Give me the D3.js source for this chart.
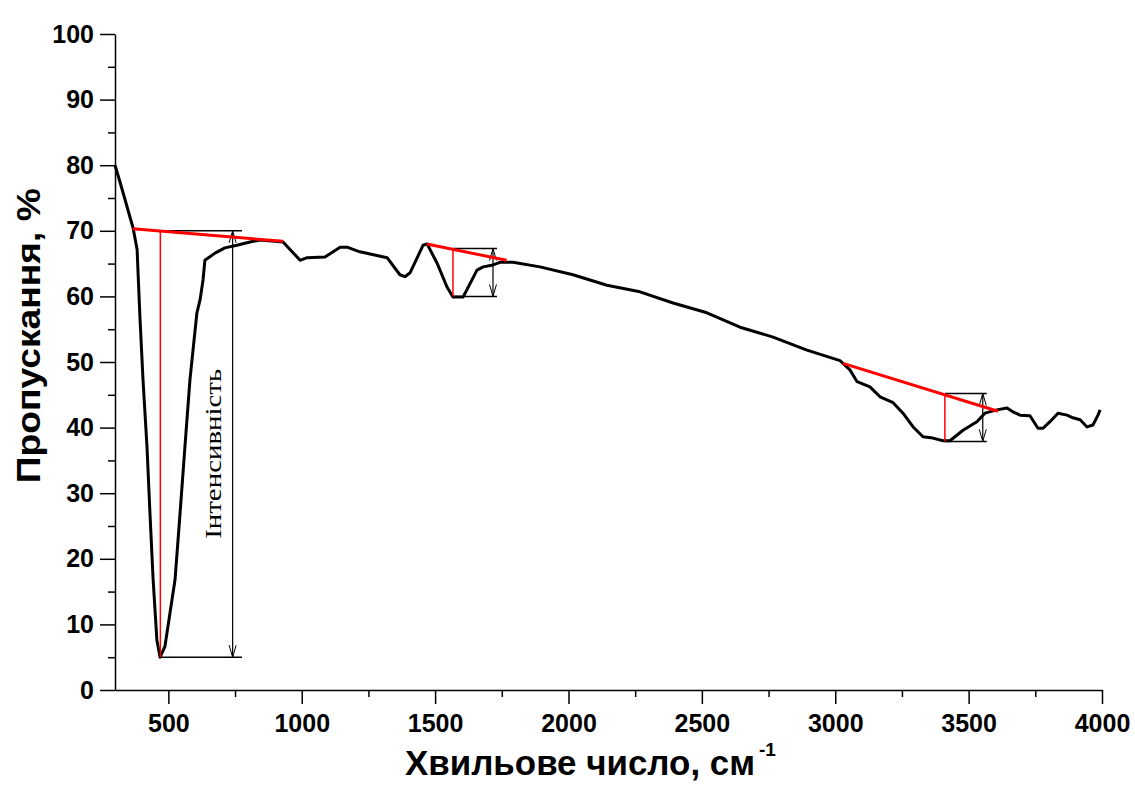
<!DOCTYPE html>
<html>
<head>
<meta charset="utf-8">
<script src="https://cdn.jsdelivr.net/npm/d3@7"></script>
<style>
  body { margin: 0; background: #fff; }
  svg text { fill: #000; }
</style>
</head>
<body>
<svg id="chart"></svg>
<script>
// IR spectrum
const wavenumber = [300, 319, 338, 356, 368, 383, 386, 394, 405, 420, 431, 443, 457, 469,
  487, 506, 525, 544, 562, 581, 607, 619, 630, 637, 675, 712, 757, 806, 844, 930,
  994, 1020, 1087, 1144, 1170, 1218, 1320, 1368, 1387, 1406, 1455, 1470, 1507, 1545,
  1567, 1605, 1657, 1680, 1717, 1743, 1792, 1893, 2017, 2144, 2268, 2392, 2519, 2643,
  2767, 2894, 3018, 3029, 3055, 3082, 3130, 3168, 3217, 3254, 3292, 3329, 3366, 3404,
  3430, 3479, 3531, 3561, 3606, 3644, 3666, 3693, 3730, 3760, 3779, 3805, 3835, 3869,
  3891, 3918, 3944, 3966, 3985, 3993];
const transmittance = [80.0, 77.4, 74.7, 72.1, 70.4, 67.1, 64.0, 56.4, 47.3, 37.0, 27.0, 16.8, 7.6, 5.0,
  6.6, 11.7, 16.8, 27.0, 37.0, 47.3, 57.5, 59.5, 62.5, 65.5, 66.6, 67.4, 67.8, 68.3, 68.6, 68.3,
  65.5, 65.9, 66.0, 67.5, 67.5, 66.8, 65.9, 63.3, 63.0, 63.6, 67.8, 68.0, 65.1, 61.4,
  59.9, 59.9, 64.0, 64.5, 64.8, 65.2, 65.2, 64.5, 63.3, 61.7, 60.7, 59.0, 57.5, 55.3,
  53.8, 51.8, 50.2, 49.8, 48.8, 47.0, 46.2, 44.7, 43.8, 42.2, 40.1, 38.6, 38.4, 38.0,
  38.0, 39.6, 40.9, 42.2, 42.7, 43.0, 42.4, 41.9, 41.8, 39.9, 39.9, 40.9, 42.2, 41.9,
  41.5, 41.2, 40.1, 40.4, 41.9, 42.7];

// band annotations (baseline, box, intensity arrow)
const baselineFrom = [[367, 70.3], [1469, 68.0], [3029, 49.8]];
const baselineTo = [[930, 68.4], [1768, 65.5], [3610, 42.5]];
const bandCenter = [470, 1567, 3411];
const bandTop = [70.0, 67.3, 45.2];
const bandMin = [5.0, 60.0, 37.9];
const bandArrow = [741, 1717, 3553];
const bandEnd = [776, 1732, 3568];

const xTicks = [500, 1000, 1500, 2000, 2500, 3000, 3500, 4000];
const xMinor = [750, 1250, 1750, 2250, 2750, 3250, 3750];
const yTicks = [0, 10, 20, 30, 40, 50, 60, 70, 80, 90, 100];
const yMinor = [5, 15, 25, 35, 45, 55, 65, 75, 85, 95];

const svgWidth = 1135, svgHeight = 785;
const margin = {top: 34, right: 33, bottom: 95, left: 115},
    width = svgWidth - margin.left - margin.right,
    height = svgHeight - margin.top - margin.bottom;

const chart = d3.select('#chart')
    .attr("width", svgWidth)
    .attr("height", svgHeight);

const g = chart.append("g")
    .attr("transform", `translate(${margin.left},${margin.top})`);

var xScale = d3.scaleLinear().domain([300, 4000]).range([0, width]);
var yScale = d3.scaleLinear().domain([0, 100]).range([height, 0]);

// open "V" arrow heads
const defs = chart.append("defs");
defs.append("marker")
    .attr("id", "vhead")
    .attr("viewBox", "-13 -5 14 10")
    .attr("refX", 0).attr("refY", 0)
    .attr("markerWidth", 14).attr("markerHeight", 10)
    .attr("markerUnits", "userSpaceOnUse")
    .attr("orient", "auto-start-reverse")
    .append("path")
    .attr("d", "M-12,-3.5 L0,0 L-12,3.5")
    .attr("fill", "none")
    .attr("stroke", "#000")
    .attr("stroke-width", 1);

const boldFont = "'Liberation Sans', Arial, sans-serif";

// axes
const xAxis = g.append("g")
    .attr("transform", `translate(0,${height})`)
    .call(d3.axisBottom(xScale).tickValues(xTicks).tickFormat(d3.format("d"))
        .tickSize(14).tickSizeOuter(0).tickPadding(10));
xAxis.append("g")
    .call(d3.axisBottom(xScale).tickValues(xMinor).tickSize(7).tickFormat(""))
    .select(".domain").remove();
xAxis.selectAll("text")
    .style("font-family", boldFont)
    .style("font-weight", "bold")
    .style("font-size", "25px");

const yAxis = g.append("g")
    .call(d3.axisLeft(yScale).tickValues(yTicks).tickFormat(d3.format("d"))
        .tickSize(15).tickSizeOuter(0).tickPadding(6));
yAxis.append("g")
    .call(d3.axisLeft(yScale).tickValues(yMinor).tickSize(7).tickFormat(""))
    .select(".domain").remove();
yAxis.selectAll("text")
    .style("font-family", boldFont)
    .style("font-weight", "bold")
    .style("font-size", "25px");

chart.selectAll(".domain, .tick line")
    .attr("stroke", "#000")
    .attr("stroke-width", 1.5);

// axis titles (squeezed to look like a narrow face)
chart.append("text")
    .attr("x", 405)
    .attr("y", 775)
    .style("font-family", boldFont)
    .style("font-weight", "bold")
    .style("font-size", "35px")
    .attr("textLength", 350)
    .attr("lengthAdjust", "spacingAndGlyphs")
    .text("Хвильове число, см");
chart.append("text")
    .attr("x", 759)
    .attr("y", 756)
    .style("font-family", boldFont)
    .style("font-weight", "bold")
    .style("font-size", "19px")
    .text("-1");

chart.append("text")
    .attr("transform", `translate(40,${margin.top + yScale(54)}) rotate(-90)`)
    .style("font-family", boldFont)
    .style("font-weight", "bold")
    .style("font-size", "34px")
    .style("text-anchor", "middle")
    .attr("textLength", 295)
    .attr("lengthAdjust", "spacingAndGlyphs")
    .text("Пропускання, %");

// spectrum
var valueline = d3.line()
    .x(function(d, i){ return xScale(wavenumber[i]); })
    .y(function(d){ return yScale(d); })
    .curve(d3.curveLinear);

g.append("path")
    .datum(transmittance)
    .attr("d", valueline)
    .attr("fill", "none")
    .attr("stroke", "#000")
    .attr("stroke-width", 3)
    .attr("stroke-linejoin", "round");

// band annotations
bandCenter.forEach(function(c, i) {
    const ann = g.append("g");
    // top and bottom of box
    ann.append("line")
        .attr("x1", xScale(c)).attr("x2", xScale(bandEnd[i]))
        .attr("y1", yScale(bandTop[i])).attr("y2", yScale(bandTop[i]))
        .attr("stroke", "#000").attr("stroke-width", 1.5);
    ann.append("line")
        .attr("x1", xScale(c)).attr("x2", xScale(bandEnd[i]))
        .attr("y1", yScale(bandMin[i])).attr("y2", yScale(bandMin[i]))
        .attr("stroke", "#000").attr("stroke-width", 1.5);
    // intensity arrow
    ann.append("line")
        .attr("x1", xScale(bandArrow[i])).attr("x2", xScale(bandArrow[i]))
        .attr("y1", yScale(bandTop[i])).attr("y2", yScale(bandMin[i]))
        .attr("stroke", "#000").attr("stroke-width", 1.2)
        .attr("marker-start", "url(#vhead)")
        .attr("marker-end", "url(#vhead)");
    // red vertical from baseline to minimum
    ann.append("line")
        .attr("x1", xScale(c)).attr("x2", xScale(c))
        .attr("y1", yScale(bandTop[i])).attr("y2", yScale(bandMin[i]))
        .attr("stroke", "#ff0000").attr("stroke-width", 1.5);
    // red baseline
    ann.append("line")
        .attr("x1", xScale(baselineFrom[i][0])).attr("y1", yScale(baselineFrom[i][1]))
        .attr("x2", xScale(baselineTo[i][0])).attr("y2", yScale(baselineTo[i][1]))
        .attr("stroke", "#ff0000").attr("stroke-width", 3);
});

g.append("text")
    .attr("transform", `translate(${xScale(bandArrow[0]) - 12},${yScale(36)}) rotate(-90)`)
    .style("font-family", "'Liberation Serif', 'Times New Roman', serif")
    .style("font-size", "24px")
    .style("text-anchor", "middle")
    .attr("textLength", 170)
    .attr("lengthAdjust", "spacingAndGlyphs")
    .text("Інтенсивність");
</script>
</body>
</html>
